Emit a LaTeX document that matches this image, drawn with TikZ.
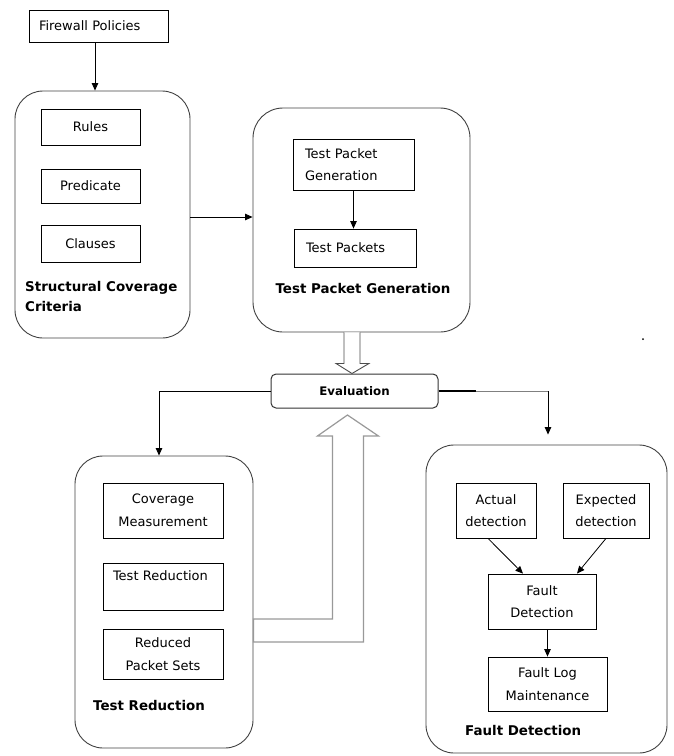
\documentclass[tikz,border=0pt]{standalone}
\usepackage{fontspec}
\setmainfont{DejaVu Sans}
\usetikzlibrary{arrows.meta,calc}
\begin{document}
\begin{tikzpicture}[x=1pt,y=-1pt,
  box/.style={draw=black, line width=0.8pt, inner sep=0pt, align=center, font=\fontsize{13}{22.5}\selectfont},
  lbox/.style={box, align=left, inner xsep=12pt},
  group/.style={draw=black!75, line width=0.9pt, rounded corners=28pt, inner sep=0pt},
  lbl/.style={font=\fontsize{13.4}{20}\selectfont\bfseries, align=left, anchor=west, inner sep=0pt},
  arr/.style={draw=black, line width=0.8pt, -{Triangle[length=7.5pt,width=6.5pt]}},
  hollow/.style={draw=black!70, line width=0.9pt, fill=white},
  hollowgrey/.style={draw=black!40, line width=1.2pt, fill=white},
]
\useasboundingbox (0,0) rectangle (673,756);

% groups
\node[group, minimum width=175pt, minimum height=247pt] (scc) at (102.5,214.5) {};
\node[group, minimum width=217pt, minimum height=224pt, rounded corners=30pt] (tpg) at (361.5,220) {};
\node[group, minimum width=178pt, minimum height=292pt] (tr) at (164,602) {};
\node[group, minimum width=241pt, minimum height=308pt] (fd) at (546.5,599) {};

% top
\node[lbox, inner xsep=10pt, text width=119pt, minimum height=32pt] (fw) at (98.5,26) {Firewall Policies};

% structural coverage criteria
\node[box, minimum width=99pt, minimum height=36pt] (rules) at (90.5,127) {Rules};
\node[box, minimum width=99pt, minimum height=34pt] (pred) at (90.5,186) {Predicate};
\node[box, minimum width=99pt, minimum height=37pt] (cla) at (90.5,243.5) {Clauses};
\node[lbl] (sccl) at (25,296) {Structural Coverage\\Criteria};

% test packet generation
\node[lbox, text width=97pt, minimum height=51pt] (tp1) at (353.5,164.5) {Test Packet\\Generation};
\node[lbox, text width=98pt, minimum height=38pt] (tp2) at (355,248) {Test Packets};
\node[lbl, anchor=center] (tpgl) at (363,288) {Test Packet Generation};

% evaluation
\node[draw=black!80, line width=1pt, rounded corners=5pt, inner sep=0pt, minimum width=167pt, minimum height=34pt,
      font=\fontsize{11.8}{14}\selectfont\bfseries] (ev) at (354.5,391) {Evaluation};

% test reduction
\node[box, minimum width=120pt, minimum height=55pt] (cm) at (163,510.5) {Coverage\\Measurement};
\node[lbox, inner xsep=10pt, text width=100pt, minimum height=47pt] (trd) at (163,586.5) {Test Reduction\\\mbox{}};
\node[box, minimum width=120pt, minimum height=50pt] (rps) at (163,654) {Reduced\\Packet Sets};
\node[lbl] (trl) at (93,705) {Test Reduction};

% fault detection
\node[box, minimum width=80pt, minimum height=55pt] (ad) at (496,510.5) {Actual\\detection};
\node[box, minimum width=86pt, minimum height=55pt] (ed) at (606,510.5) {Expected\\detection};
\node[box, minimum width=108pt, minimum height=55pt] (fdi) at (542,601.5) {Fault\\Detection};
\node[box, minimum width=119pt, minimum height=54pt] (flm) at (547.5,684) {Fault Log\\Maintenance};
\node[lbl] (fdl) at (465,730) {Fault Detection};

% connectors
\draw[arr] ([xshift=-3.5pt]fw.south) -- ([xshift=-3.5pt]fw.south |- scc.north);
\draw[arr] (scc.east |- 0,217) -- (tpg.west |- 0,217);
\draw[arr] (tp1.south) -- (tp1.south |- tp2.north);

\coordinate (dA) at ($(tpg.south)+(-9.5,0)$);
\draw[hollow] ($(dA)+(-8,0)$) -- ($(dA)+(-8,31)$) -- ($(dA)+(-16,31)$) -- (dA |- ev.north)
  -- ($(dA)+(17,31)$) -- ($(dA)+(8,31)$) -- ($(dA)+(8,0)$);

\coordinate (lc) at (159,391);
\draw[arr] (ev.west) -- (lc) -- (lc |- tr.north);

\coordinate (rc) at (548,391);
\draw[line width=1.5pt] (ev.east) -- ($(ev.east)+(37,0)$) coordinate (rk);
\draw[draw=black!50, line width=1pt] (rk) -- (rc);
\draw[arr, shorten >=10pt] (rc) -- (rc |- fd.north);

\coordinate (uA) at ($(tr.east)+(0,17)$);
\draw[hollowgrey] (uA) -- ++(79,0) -- ++(0,-183) -- ++(-15,0) -- ++(30,-21) -- ++(31,21)
  -- ++(-15,0) -- ++(0,206) -- ++(-110,0) -- cycle;

\draw[arr] ([xshift=-8pt]ad.south) -- ([xshift=-19pt]fdi.north);
\draw[arr] (ed.south) -- ([xshift=35pt]fdi.north);
\draw[arr] (flm.north |- fdi.south) -- (flm.north);

\fill (643,339) circle (1pt);
\end{tikzpicture}
\end{document}
